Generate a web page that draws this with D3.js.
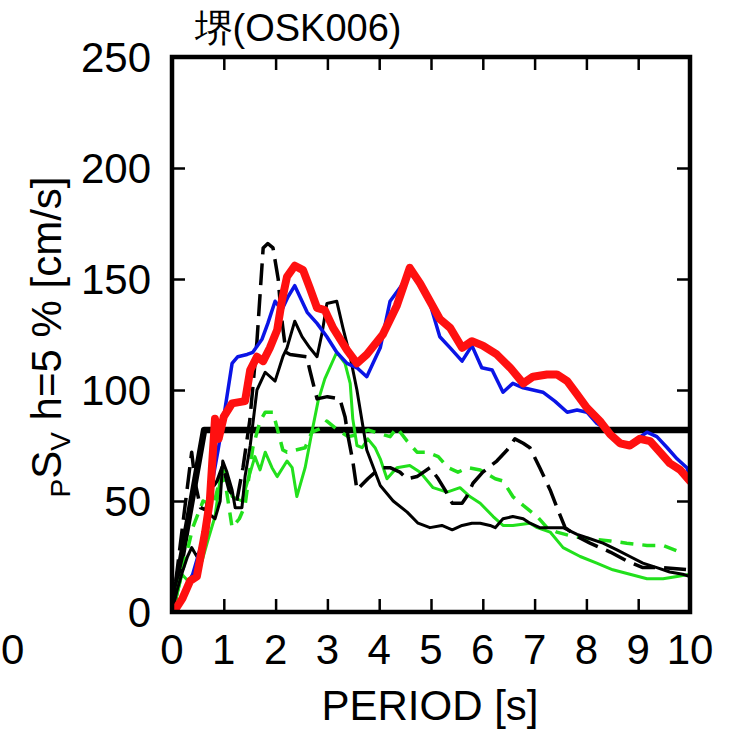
<!DOCTYPE html>
<html><head><meta charset="utf-8">
<script src="https://cdn.jsdelivr.net/npm/d3@7"></script>
<style>
html,body{margin:0;padding:0;background:#fff;}
svg{display:block;}
text{font-family:"Liberation Sans",Arial,Helvetica,sans-serif;fill:#000;}
</style></head>
<body>
<svg id="c" width="733" height="733"></svg>
<script>
const title = "堺(OSK006)";
const xTicks = [0,1,2,3,4,5,6,7,8,9,10];
const yTicks = [0,50,100,150,200,250];

const desT = [0,0.62,10];
const desV = [0,82,82];

const redT = [0,0.06,0.2,0.35,0.48,0.64,0.73,0.83,0.9,1.0,1.16,1.41,1.51,1.64,1.76,1.89,2.03,2.12,2.22,2.37,2.53,2.66,2.8,2.95,3.11,3.38,3.57,3.76,4.07,4.34,4.59,4.79,4.98,5.17,5.37,5.6,5.79,6.0,6.27,6.53,6.78,6.97,7.24,7.43,7.63,7.82,8.01,8.26,8.46,8.65,8.84,9.03,9.23,9.42,9.61,9.81,10];
const redV = [0,1,6,14,16,36,50,87,78,88,94,95,109,115,113,119,127,140,151,156,154,146,137,136,128,118,112,116,125,138,155,148,140,132,128,119,122,120,116,110,103,106,107,107,104,98,92,86,80,76,75,78,77,72,67,64,59];

const blueT = [0,0.2,0.4,0.6,0.75,0.89,1.02,1.16,1.27,1.45,1.56,1.74,1.85,1.99,2.12,2.24,2.37,2.51,2.61,2.8,2.99,3.18,3.38,3.57,3.76,3.88,4.02,4.21,4.4,4.59,4.79,4.98,5.17,5.37,5.6,5.79,5.98,6.18,6.39,6.58,6.78,6.97,7.16,7.39,7.63,7.82,8.01,8.2,8.4,8.59,8.78,8.98,9.17,9.36,9.56,9.75,9.94,10];
const blueV = [0,7,17,33,55,73,91,112,115,116,117,123,130,140,136,142,147,140,135,130,124,117,112,110,106,112,119,140,146,153,147,139,124,119,113,120,110,109,99,103,101,100,99,95,90,91,90,85,82,78,75,78,81,79,74,69,65,61];

const blkT = [0,0.1,0.2,0.3,0.38,0.48,0.6,0.68,0.73,0.83,0.93,0.98,1.06,1.16,1.22,1.35,1.41,1.51,1.64,1.8,1.99,2.14,2.22,2.37,2.51,2.66,2.8,2.9,2.99,3.18,3.3,3.44,3.57,3.69,3.76,4.02,4.27,4.54,4.75,4.98,5.21,5.41,5.6,5.79,5.95,6.14,6.24,6.39,6.58,6.78,6.91,7.1,7.3,7.55,7.82,8.07,8.32,8.59,8.84,9.09,9.36,9.61,9.86,10];
const blkV = [0,10,18,25,29,25,30,36,44,42,50,68,63,55,47,47,61,75,100,108,104,115,119,131,124,119,115,126,139,140,128,115,100,83,73,57,50,45,40,38,39,37,39,40,40,39,38,42,43,42,40,38,38,38,35,33,31,28,25,22,20,18,17,16];

const bdT = [0,0.2,0.38,0.45,0.55,0.65,0.75,0.87,0.98,1.1,1.25,1.37,1.5,1.56,1.64,1.76,1.85,1.95,2.05,2.1,2.14,2.2,2.28,2.6,2.66,2.8,3.0,3.24,3.34,3.4,3.49,3.57,3.78,4.02,4.21,4.4,4.54,4.73,4.98,5.14,5.27,5.41,5.6,5.69,5.81,6.0,6.27,6.47,6.62,6.78,6.91,7.1,7.3,7.45,7.59,7.82,8.07,8.46,8.78,9.09,9.48,10];
const bdV = [0,38,72,58,47,46,55,59,66,55,50,65,86,101,122,164,166,164,150,136,128,117,116,115,109,96,97,96,88,79,68,55,60,65,65,63,60,61,65,60,55,49,49,52,58,63,68,73,78,76,74,65,55,46,38,34,31,27,23,20,20,19];

const gT = [0,0.1,0.19,0.31,0.44,0.58,0.69,0.83,0.96,1.06,1.16,1.35,1.5,1.6,1.7,1.8,1.93,2.03,2.22,2.32,2.41,2.57,2.7,2.82,2.95,3.18,3.34,3.44,3.49,3.57,3.67,3.78,3.92,4.02,4.15,4.34,4.59,4.79,5.04,5.31,5.56,5.75,5.95,6.2,6.39,6.58,6.91,7.05,7.3,7.55,7.88,8.2,8.51,8.84,9.17,9.48,9.75,10];
const gV = [0,8,17,14,18,23,32,43,65,61,52,50,62,70,64,72,65,61,68,65,52,65,81,95,105,117,112,103,87,75,74,78,74,69,60,65,66,63,56,54,56,52,49,43,39,39,40,38,36,29,25,22,19,17,15,15,16,17];

const gdT = [0,0.2,0.4,0.6,0.8,0.95,1.05,1.16,1.3,1.41,1.56,1.7,1.8,1.95,2.05,2.14,2.22,2.57,2.7,2.9,2.99,3.2,3.4,3.6,3.78,3.92,4.21,4.34,4.54,4.73,4.92,5.14,5.33,5.52,5.71,5.95,6.24,6.39,6.58,6.78,7.05,7.24,7.43,7.74,8.07,8.46,8.78,9.17,9.48,9.81];
const gdV = [0,18,38,50,48,62,55,38,42,48,74,86,90,90,81,73,72,74,81,83,86,82,79,80,82,81,79,83,77,72,72,70,65,63,65,64,60,59,52,48,43,38,36,34,33,32,31,30,30,27];

const L = 172, R = 690, T = 57, B = 612;
const svg = d3.select("#c");
const x = d3.scaleLinear().domain([0,10]).range([L,R]);
const y = d3.scaleLinear().domain([0,250]).range([B,T]);

svg.append("defs").append("clipPath").attr("id","pc")
  .append("rect").attr("x",L).attr("y",T).attr("width",R-L).attr("height",B-T);

const line = d3.line().x(d=>x(d[0])).y(d=>y(d[1]));
const zip = (a,b)=>a.map((v,i)=>[v,b[i]]);

const g = svg.append("g").attr("clip-path","url(#pc)");
const series = [
  {t:desT, v:desV, color:"#000", w:6.5, dash:null},
  {t:gdT, v:gdV, color:"#22e01c", w:3.5, dash:"13,9"},
  {t:gT, v:gV, color:"#22e01c", w:3, dash:null},
  {t:bdT, v:bdV, color:"#000", w:3.5, dash:"22,9"},
  {t:blkT, v:blkV, color:"#000", w:3, dash:null},
  {t:blueT, v:blueV, color:"#0a14e6", w:3.5, dash:null},
  {t:redT, v:redV, color:"#ff1010", w:8, dash:null}
];
series.forEach(s=>{
  g.append("path").attr("d", line(zip(s.t,s.v)))
    .attr("fill","none").attr("stroke",s.color).attr("stroke-width",s.w)
    .attr("stroke-linejoin","round").attr("stroke-linecap", s.dash ? "butt" : "round")
    .attr("stroke-dasharray", s.dash);
});

// axes (ticks inward)
const xb = svg.append("g").attr("transform",`translate(0,${B})`)
  .call(d3.axisBottom(x).tickValues(xTicks.slice(1,-1)).tickSize(-13).tickFormat(""));
const xt = svg.append("g").attr("transform",`translate(0,${T})`)
  .call(d3.axisTop(x).tickValues(xTicks.slice(1,-1)).tickSize(-13).tickFormat(""));
const yl = svg.append("g").attr("transform",`translate(${L},0)`)
  .call(d3.axisLeft(y).tickValues(yTicks.slice(1,-1)).tickSize(-13).tickFormat(""));
const yr = svg.append("g").attr("transform",`translate(${R},0)`)
  .call(d3.axisRight(y).tickValues(yTicks.slice(1,-1)).tickSize(-13).tickFormat(""));
[xb,xt,yl,yr].forEach(a=>{
  a.select(".domain").remove();
  a.selectAll(".tick line").attr("stroke","#000").attr("stroke-width",2.5);
});

// frame
svg.append("rect").attr("x",L).attr("y",T).attr("width",R-L).attr("height",B-T)
  .attr("fill","none").attr("stroke","#000").attr("stroke-width",4.5);

// tick labels
svg.append("g").selectAll("text").data(xTicks).join("text")
  .attr("x",d=>x(d)).attr("y",664).attr("text-anchor","middle")
  .attr("font-size",42).text(d=>d);
svg.append("g").selectAll("text").data(yTicks).join("text")
  .attr("x",151).attr("y",d=>y(d)+15).attr("text-anchor","end")
  .attr("font-size",42).text(d=>d);

// neighbour fragment
svg.append("text").attr("x",1).attr("y",664).attr("text-anchor","start").attr("font-size",42).text("0");

// title
svg.append("text").attr("x",298).attr("y",41).attr("text-anchor","middle")
  .attr("font-size",38).text(title);

// x label
svg.append("text").attr("x",430).attr("y",720).attr("text-anchor","middle")
  .attr("font-size",42).text("PERIOD [s]");

// y label
const yt = svg.append("text").attr("transform","translate(61,337) rotate(-90)")
  .attr("text-anchor","middle").attr("font-size",42);
yt.append("tspan").attr("font-size",28).attr("dy",9).text("P");
yt.append("tspan").attr("dy",-9).text("S");
yt.append("tspan").attr("font-size",28).attr("dy",9).text("V");
yt.append("tspan").attr("dy",-9).text(" h=5 % [cm/s]");
</script>
</body></html>
